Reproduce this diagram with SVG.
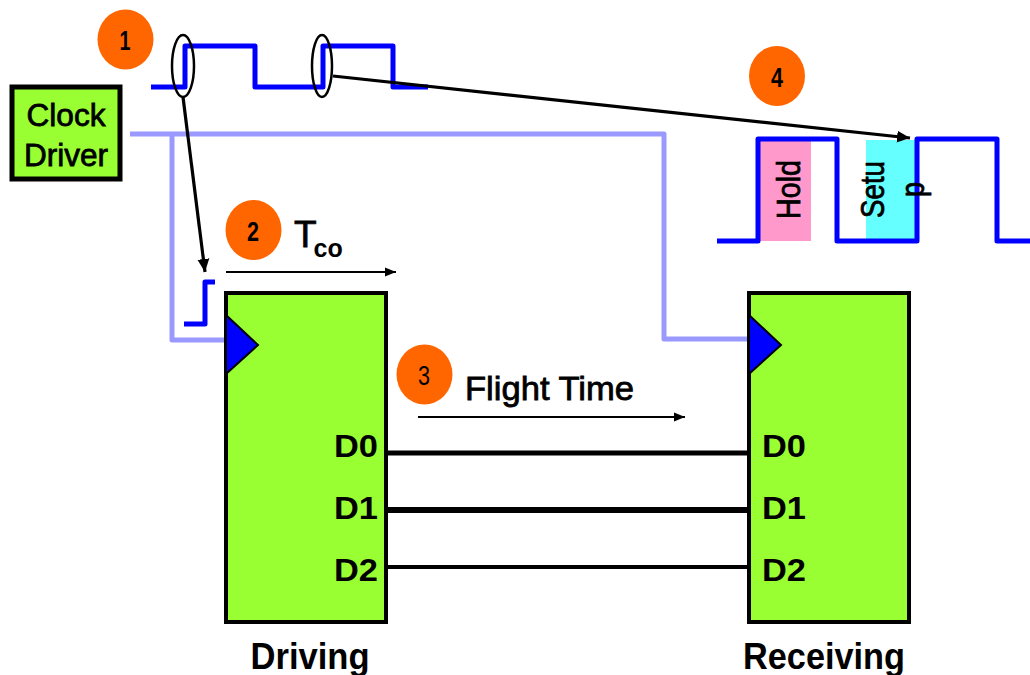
<svg xmlns="http://www.w3.org/2000/svg" width="1030" height="675" viewBox="0 0 1030 675">
<style>
text{font-family:"Liberation Sans",Arial,sans-serif;fill:#000}
.m{stroke:#000;stroke-width:.8}
.clk{fill:none;stroke:#9999ff;stroke-width:5;stroke-linejoin:round}
.sig{fill:none;stroke:#0000ff;stroke-width:5;stroke-linejoin:round}
.wire{fill:none;stroke:#000}
.ptr{fill:none;stroke:#000;stroke-width:3.2}
.thin{fill:none;stroke:#000;stroke-width:2}
.ell{fill:none;stroke:#000;stroke-width:2.500}
.box{fill:#99ff33;stroke:#000;stroke-width:4}
.tri{fill:#0000ff;stroke:#000;stroke-width:2}
.num{fill:#ff6600}
.n{font-size:27px;font-weight:bold;text-anchor:middle}
.d{font-size:31px;font-weight:bold}
</style>
<defs>
<marker id="ah" markerUnits="userSpaceOnUse" markerWidth="14" markerHeight="14" refX="13" refY="7" orient="auto"><path d="M0,1L13,7L0,13z" fill="#000"/></marker>
<marker id="as" markerUnits="userSpaceOnUse" markerWidth="12" markerHeight="11" refX="11" refY="5.500" orient="auto"><path d="M0,1L11,5.500L0,10z" fill="#000"/></marker>
</defs>
<g id="connectors">
<path class="clk" d="M130,134H664V339H750"/>
<path class="clk" d="M172,134V340H226"/>
<path class="wire" style="stroke-width:5" d="M386,453H750"/>
<path class="wire" style="stroke-width:6" d="M386,510H750"/>
<path class="wire" style="stroke-width:4" d="M386,567H750"/>
</g>
<g id="timing-waveforms">
<rect x="759" y="140" width="52" height="101" fill="#ff99cc"/>
<rect x="866" y="140" width="51" height="101" fill="#66ffff"/>
<path class="sig" d="M151,87H185V46H255V87H323V46H393V87H428"/>
<path class="sig" d="M184,324H205V282H215"/>
<path class="sig" d="M717,241H758V139H837V241H917V139H997V241H1030"/>
<text class="m" transform="translate(800,219) rotate(-90)" font-size="34" textLength="59" lengthAdjust="spacingAndGlyphs">Hold</text>
<text class="m" transform="translate(884,218) rotate(-90)" font-size="34" textLength="57" lengthAdjust="spacingAndGlyphs">Setu</text>
<text class="m" transform="translate(924,197) rotate(-90)" font-size="34" textLength="15" lengthAdjust="spacingAndGlyphs">p</text>
</g>
<g id="pointers">
<ellipse class="ell" cx="183" cy="66" rx="11" ry="31"/>
<ellipse class="ell" cx="322" cy="66" rx="10" ry="31"/>
<path class="ptr" d="M183,97L205,272" marker-end="url(#ah)"/>
<path class="ptr" d="M333,76L910,138" marker-end="url(#ah)"/>
<path class="thin" d="M226,272H396" marker-end="url(#as)"/>
<path class="thin" d="M418,417H685" marker-end="url(#as)"/>
</g>
<g id="clock-driver">
<rect x="12" y="87" width="108" height="92" fill="#99ff33" stroke="#000" stroke-width="5"/>
<text class="m" x="66" y="126" font-size="32" text-anchor="middle" textLength="79" lengthAdjust="spacingAndGlyphs">Clock</text>
<text class="m" x="66" y="166" font-size="32" text-anchor="middle" textLength="84" lengthAdjust="spacingAndGlyphs">Driver</text>
</g>
<g id="driving">
<rect class="box" x="226" y="293" width="160" height="329"/>
<path class="tri" d="M226,315L258,345L226,374z"/>
<text class="d" x="334" y="457" textLength="44" lengthAdjust="spacingAndGlyphs">D0</text>
<text class="d" x="334" y="519" textLength="44" lengthAdjust="spacingAndGlyphs">D1</text>
<text class="d" x="334" y="581" textLength="44" lengthAdjust="spacingAndGlyphs">D2</text>
<text x="310" y="669" font-size="36" font-weight="bold" text-anchor="middle" textLength="119" lengthAdjust="spacingAndGlyphs">Driving</text>
</g>
<g id="receiving">
<rect class="box" x="749" y="293" width="160" height="329"/>
<path class="tri" d="M749,315L781,345L749,374z"/>
<text class="d" x="762" y="457" textLength="44" lengthAdjust="spacingAndGlyphs">D0</text>
<text class="d" x="762" y="519" textLength="44" lengthAdjust="spacingAndGlyphs">D1</text>
<text class="d" x="762" y="581" textLength="44" lengthAdjust="spacingAndGlyphs">D2</text>
<text x="824" y="669" font-size="36" font-weight="bold" text-anchor="middle" textLength="162" lengthAdjust="spacingAndGlyphs">Receiving</text>
</g>
<g id="badge-1"><ellipse class="num" cx="125.500" cy="39.500" rx="28" ry="30"/><text class="n" x="125" y="50" textLength="11" lengthAdjust="spacingAndGlyphs">1</text></g>
<g id="badge-2"><ellipse class="num" cx="253.500" cy="230" rx="28" ry="30"/><text class="n" x="253" y="241" textLength="12" lengthAdjust="spacingAndGlyphs">2</text></g>
<g id="badge-3"><ellipse class="num" cx="424.500" cy="374.500" rx="28" ry="30"/><text class="n" x="424" y="385" textLength="12" lengthAdjust="spacingAndGlyphs" style="font-weight:normal">3</text></g>
<g id="badge-4"><ellipse class="num" cx="777" cy="76" rx="28" ry="30"/><text class="n" x="777" y="87" textLength="12" lengthAdjust="spacingAndGlyphs">4</text></g>
<g id="labels">
<text x="294" y="247" font-size="37" stroke="#000" stroke-width=".8">T<tspan font-size="25" font-weight="bold" stroke="none" dx="-3" dy="10">co</tspan></text>
<text class="m" x="465" y="400" font-size="34" textLength="169" lengthAdjust="spacingAndGlyphs">Flight Time</text>
</g>
</svg>
